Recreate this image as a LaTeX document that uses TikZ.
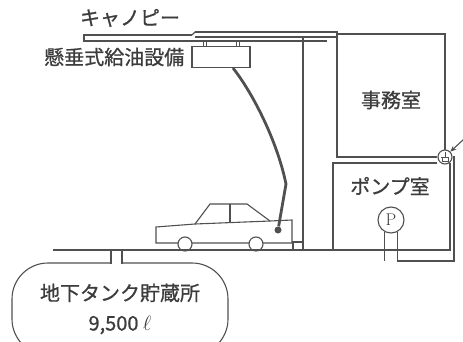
\documentclass[tikz,border=0pt]{standalone}
\usepackage{fontspec}
\newfontfamily\jpfont{Noto Sans CJK JP}[FakeBold=0.9]
\usetikzlibrary{arrows.meta}
\usetikzlibrary{positioning}
\definecolor{ink}{HTML}{505050}
\definecolor{textink}{HTML}{3c3c3c}
\tikzset{
    line/.style={draw=ink, line width=1.1pt},
    wall/.style={draw=ink, line width=2.3pt},
    hose/.style={draw=ink, line width=2.8pt},
    jptext/.style={text=textink, font=\jpfont\fontsize{20}{30}\selectfont, inner sep=0pt}
}

\begin{document}
\begin{tikzpicture}[x=1pt,y=-1pt]

    \useasboundingbox (0,0) rectangle (463,342);

    % canopy, pillar and office
    \draw[line] (192,35) -- (84,35) -- (84,41) -- (327,41);
    \draw[line] (192,35) -- (195,32);
    \draw[wall] (195,32) -- (337,32) -- (337,157) -- (437,157);
    \draw[line] (195,37) -- (337,37);
    \draw[line] (303,37) -- (303,250);
    \draw[line] (337,34) -- (445,34) -- (445,150);
    \node[jptext] (canopy) at (130,18) {キャノピー};
    \node[jptext] (office) at (391,100) {事務室};

    % hanging dispenser and hose
    \node[line, minimum width=58pt, minimum height=21pt, inner sep=0pt] (dispenser) at (221,57) {};
    \foreach \x in {203,206,236,239}
        \draw[line, line width=0.6pt] (\x,41) -- (\x,46.5);
    \node[jptext, left=7pt of dispenser] (dispenserlabel) {懸垂式給油設備};
    \node[circle, fill=ink, minimum size=7pt, inner sep=0pt] (nozzle) at (278,230) {};
    \draw[hose] ([xshift=12pt]dispenser.south) .. controls (252,92) and (277,140) .. (286,184) -- (nozzle);

    % car
    \draw[line] (156,243) -- (156,227) -- (195,224) -- (210,204) -- (247,204) -- (270,221) -- (292,220) -- (292,243) -- cycle;
    \draw[line] (195,224) -- (270,221);
    \draw[line] (230,204) -- (230,222.5);
    \foreach \x in {185,256}
        \draw[line, fill=white] (\x,244) circle (7pt);
    \draw[line] (293,242) rectangle (303,250);

    % ground
    \draw[line] (53,250) -- (451,250);

    % pump room
    \draw[line] (333,250) -- (333,163) -- (437,163);
    \draw[line] (450,163) -- (450,250);
    \node[jptext] (pumproom) at (390,186) {ポンプ室};
    \node[line, circle, minimum size=26pt, inner sep=0pt, text=textink, font=\fontsize{17}{17}\selectfont] (pump) at (391,220) {P};

    % vent and pipes
    \node[line, circle, minimum size=14pt, inner sep=0pt] (vent) at (445,157) {};
    \draw[line, line width=0.7pt] ([shift={(-4,0)}]vent.center) -- ++(8,0);
    \draw[line, line width=0.7pt] (vent.center) -- ++(0,-5);
    \draw[line, line width=0.7pt] ([shift={(-3,1)}]vent.center) -- ++(0,3.5) -- ++(6,0) -- ++(0,-3.5);
    \coordinate (pipeturn) at (454,261);
    \draw[line] (pump.-120) -- ++(0,29);
    \draw[line] (pump.-60) |- (pipeturn) |- (vent.east);
    \coordinate (arrowtail) at (464,139);
    \draw[line, -{Stealth[length=6pt,width=5pt]}] (arrowtail) -- (vent.north east);

    % underground tank
    \node[line, jptext, rounded corners=36pt, minimum width=216pt, minimum height=92pt, align=center] (tank) at (120,309) {地下タンク貯蔵所\\9,500 $\ell$};
    \fill[white] (111,259) rectangle (122,267);
    \draw[line] (111,250) -- (111,263.5);
    \draw[line] (122,250) -- (122,263.5);

\end{tikzpicture}
\end{document}
